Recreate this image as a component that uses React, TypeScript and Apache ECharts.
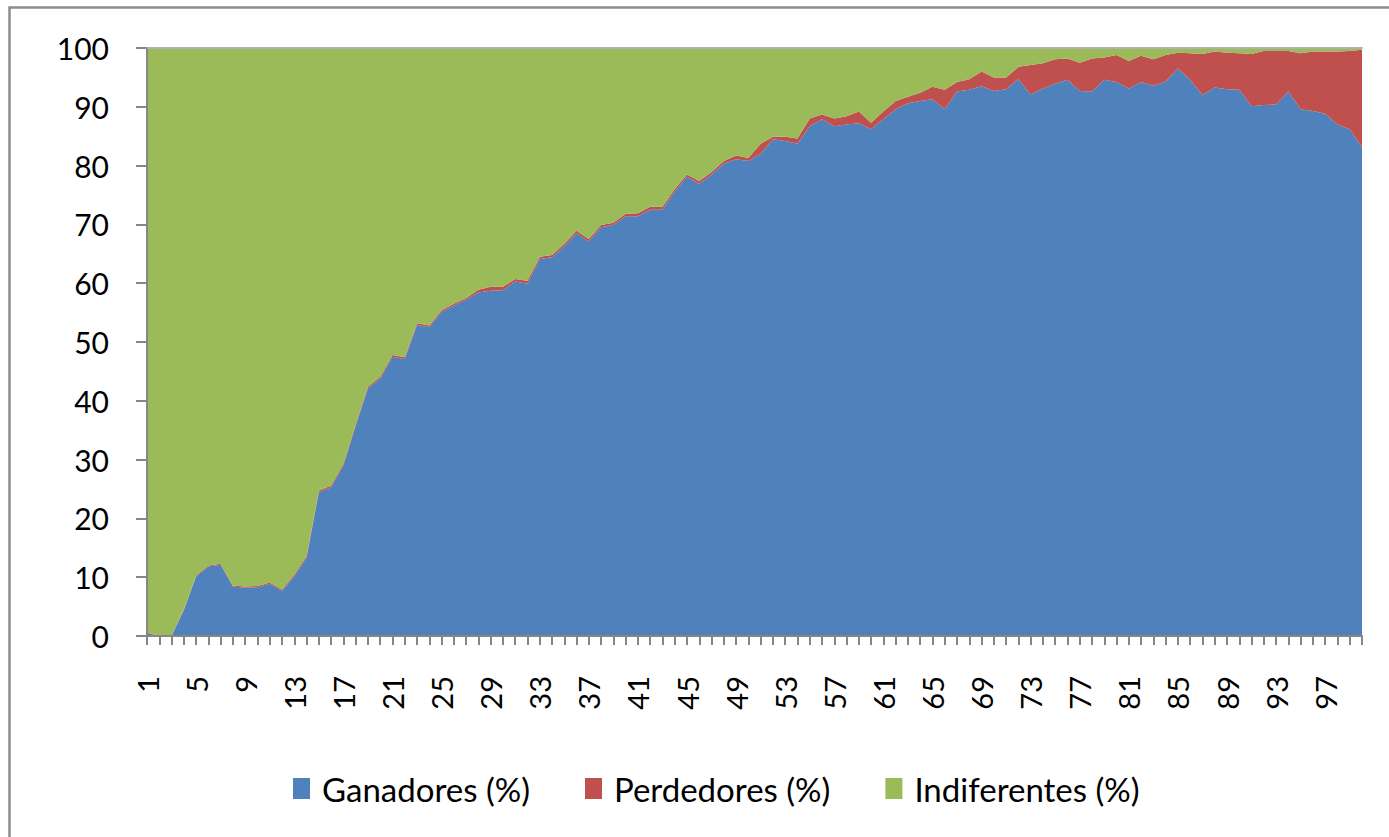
import React, { useEffect, useRef } from "react";
import * as echarts from "echarts";

const categories: string[] = Array.from({ length: 100 }, (_, i) => String(i + 1));

const ganadores: number[] = [
  0.5, 0, 0, 4.4, 10.1, 11.8, 12.1, 8.4, 8.2, 8.3,
  8.9, 7.7, 10.1, 13.3, 24.4, 25.3, 29.0, 35.7, 42.1, 43.8,
  47.5, 47.1, 52.9, 52.5, 55.1, 56.2, 57.2, 58.4, 58.7, 58.8,
  60.3, 59.9, 64.1, 64.4, 66.3, 68.5, 67.1, 69.5, 69.9, 71.4,
  71.4, 72.5, 72.5, 75.6, 78.1, 76.9, 78.5, 80.3, 81.1, 80.8,
  82.0, 84.5, 84.2, 83.7, 86.7, 87.9, 86.7, 87.0, 87.2, 86.2,
  87.9, 89.6, 90.6, 91.0, 91.3, 89.6, 92.6, 92.9, 93.5, 92.7,
  93.0, 94.7, 92.1, 93.1, 93.9, 94.6, 92.7, 92.6, 94.6, 94.2,
  93.1, 94.2, 93.6, 94.3, 96.5, 94.6, 92.0, 93.3, 93.0, 92.9,
  90.1, 90.3, 90.4, 92.6, 89.6, 89.3, 88.8, 87.0, 86.2, 83.1,
];

const perdedores: number[] = [
  0.1, 0.1, 0.1, 0.1, 0.2, 0.2, 0.2, 0.2, 0.2, 0.2,
  0.2, 0.2, 0.3, 0.3, 0.3, 0.3, 0.3, 0.3, 0.3, 0.3,
  0.3, 0.3, 0.3, 0.3, 0.3, 0.3, 0.3, 0.5, 0.7, 0.6,
  0.4, 0.5, 0.4, 0.4, 0.4, 0.4, 0.4, 0.4, 0.4, 0.4,
  0.5, 0.5, 0.5, 0.4, 0.4, 0.5, 0.4, 0.5, 0.6, 0.5,
  1.7, 0.4, 0.7, 0.9, 1.3, 0.8, 1.3, 1.4, 2.0, 1.1,
  1.3, 1.4, 1.1, 1.4, 2.1, 3.3, 1.6, 1.8, 2.5, 2.3,
  2.0, 2.1, 5.0, 4.3, 4.2, 3.6, 4.8, 5.6, 3.8, 4.6,
  4.7, 4.5, 4.5, 4.5, 2.7, 4.5, 7.0, 6.1, 6.2, 6.2,
  8.9, 9.2, 9.1, 6.9, 9.5, 10.1, 10.6, 12.4, 13.3, 16.6,
];

const indiferentes: number[] = [
  99.4, 99.9, 99.9, 95.5, 89.7, 88.0, 87.7, 91.4, 91.6, 91.5,
  90.9, 92.1, 89.6, 86.4, 75.3, 74.4, 70.7, 64.0, 57.6, 55.9,
  52.2, 52.6, 46.8, 47.2, 44.6, 43.5, 42.5, 41.1, 40.6, 40.6,
  39.3, 39.6, 35.5, 35.2, 33.3, 31.1, 32.5, 30.1, 29.7, 28.2,
  28.1, 27.0, 27.0, 24.0, 21.5, 22.6, 21.1, 19.2, 18.3, 18.7,
  16.3, 15.1, 15.1, 15.4, 12.0, 11.3, 12.0, 11.6, 10.8, 12.7,
  10.8, 9.0, 8.3, 7.6, 6.6, 7.1, 5.8, 5.3, 4.0, 5.0,
  5.0, 3.2, 2.9, 2.6, 1.9, 1.8, 2.5, 1.8, 1.6, 1.2,
  2.2, 1.3, 1.9, 1.2, 0.8, 0.9, 1.0, 0.6, 0.8, 0.9,
  1.0, 0.5, 0.5, 0.5, 0.9, 0.6, 0.6, 0.6, 0.5, 0.3,
];

const seriesNames = ["Ganadores (%)", "Perdedores (%)", "Indiferentes (%)"];
const seriesColors = ["#4F81BD", "#C0504D", "#9BBB59"];

const FONT = "Lato, 'Noto Sans', sans-serif";

export default function App() {
  const ref = useRef<HTMLDivElement>(null);

  useEffect(() => {
    if (!ref.current) return;
    const chart = echarts.init(ref.current, undefined, { renderer: "svg" });
    const datasets = [ganadores, perdedores, indiferentes];
    chart.setOption({
      animation: false,
      backgroundColor: "#ffffff",
      textStyle: { fontFamily: FONT },
      graphic: [
        {
          type: "rect",
          shape: { x: 9.5, y: 7.5, width: 1400, height: 850 },
          style: { fill: "none", stroke: "#8c8c8c", lineWidth: 2.5 },
          silent: true,
        },
      ],
      grid: { left: 147, right: 27, top: 48, bottom: 201, containLabel: false },
      legend: {
        top: 767,
        left: 288,
        itemWidth: 17,
        itemHeight: 21,
        itemGap: 55,
        icon: "rect",
        textStyle: { fontSize: 33, color: "#000", fontFamily: FONT, padding: [0, 0, 0, 7] },
        data: seriesNames,
      },
      xAxis: [
        {
          type: "category",
          data: categories,
          boundaryGap: false,
          z: 10,
          axisLine: { lineStyle: { color: "#868686", width: 2 } },
          axisTick: { interval: 0, length: 9, lineStyle: { color: "#868686", width: 2 } },
          axisLabel: {
            interval: 3,
            rotate: 90,
            margin: 40,
            fontSize: 29,
            color: "#000",
            fontFamily: FONT,
          },
          splitLine: { show: false },
        },
        {
          type: "category",
          data: categories,
          boundaryGap: false,
          position: "top",
          z: 10,
          axisLine: { lineStyle: { color: "#b0b0b0", width: 2 } },
          axisTick: { show: false },
          axisLabel: { show: false },
        },
      ],
      yAxis: {
        type: "value",
        min: 0,
        max: 100,
        interval: 10,
        z: 10,
        axisLine: { show: true, lineStyle: { color: "#868686", width: 2 } },
        axisTick: { show: true, length: 11, lineStyle: { color: "#868686", width: 2 } },
        axisLabel: { margin: 38, fontSize: 30, color: "#000", fontFamily: FONT },
        splitLine: { show: false },
      },
      series: datasets.map((d, i) => ({
        name: seriesNames[i],
        type: "line",
        stack: "total",
        data: d,
        symbol: "none",
        lineStyle: { width: 0 },
        itemStyle: { color: seriesColors[i] },
        areaStyle: { color: seriesColors[i], opacity: 1 },
      })),
    });
    return () => chart.dispose();
  }, []);

  return (
    <div
      ref={ref}
      style={{ position: "absolute", left: 0, top: 0, width: 1389, height: 837 }}
    />
  );
}
